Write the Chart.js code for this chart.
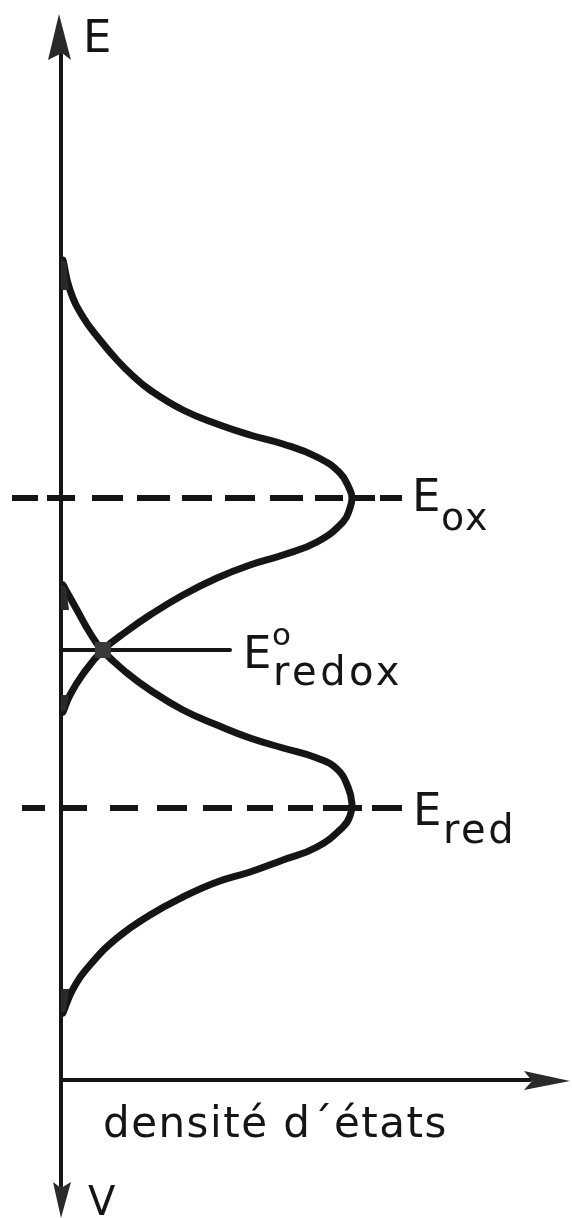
<!DOCTYPE html>
<html>
<head>
<meta charset="utf-8">
<script src="https://cdn.jsdelivr.net/npm/chart.js@4.4.0/dist/chart.umd.min.js"></script>
<style>
  html, body { margin: 0; background: #fff; }
  canvas { display: block; }
</style>
</head>
<body>
<canvas id="out" width="572" height="1218"></canvas>
<script>
// x = densité d'états, y = énergie (0 au croisement des axes)
const oxDensity = [2, 9, 22, 39, 56, 72, 89, 122, 156, 189, 222, 256, 279, 289, 291, 289,
                   282, 256, 222, 189, 156, 122, 89, 66, 42, 22, 9, 2];
const oxEnergy  = [820, 790, 763, 740, 720, 704, 690, 670, 656, 645, 636, 623, 607, 590, 582, 572,
                   558, 538, 525, 515, 502, 485, 465, 449, 430, 406, 385, 368];

const redDensity = [2, 16, 29, 41, 66, 89, 122, 156, 189, 222, 256, 276, 287, 291, 289,
                    282, 256, 222, 189, 156, 122, 89, 56, 29, 12, 2];
const redEnergy  = [495, 470, 447, 430, 407, 390, 370, 355, 342, 332, 322, 311, 293, 276, 264,
                    253, 233, 220, 208, 198, 183, 165, 142, 115, 91, 67];

const levelEox = 582;
const levelEred = 272;
const levelRedox = 430;
const redoxCross = 42;

const axisTop = 1066;
const axisBottom = -138;
const axisRight = 509;

const levelLabels = ["ox", "red", "redox"];
const axisLabels = ["E", "V", "densité d\u00b4états"];

const INK = "#151515";

// tirets tracés à la main, irréguliers
const dashOx = [26, 9, 28, 17, 31, 14, 33, 12, 30, 13, 30, 15, 33, 12, 28, 10, 22, 5, 22, 40];
const dashRed = [23, 15, 27, 23, 28, 19, 30, 16, 29, 15, 26, 15, 25, 10, 39, 10, 30, 40];

function line(data, width, dash) {
  return {
    data: data,
    borderColor: INK,
    borderWidth: width,
    borderDash: dash || [],
    borderCapStyle: dash ? "butt" : "round",
    pointRadius: 0,
    pointHoverRadius: 0,
    tension: 0,
    fill: false
  };
}

function curve(xs, ys) {
  const d = line(xs.map((x, i) => ({ x: x, y: ys[i] })), 7);
  d.tension = 0.45;
  d.borderJoinStyle = "round";
  return d;
}

// flèches et textes
const annotate = {
  id: "annotate",
  afterDatasetsDraw(chart) {
    const ctx = chart.ctx;
    const sx = chart.scales.x, sy = chart.scales.y;
    const px = v => sx.getPixelForValue(v);
    const py = v => sy.getPixelForValue(v);

    ctx.save();
    ctx.fillStyle = "#2a2a2a";

    // pointe vers le haut
    let tx = px(0), ty = py(axisTop);
    ctx.beginPath();
    ctx.moveTo(tx - 2, ty);
    ctx.lineTo(tx + 10, ty + 46);
    ctx.lineTo(tx + 1, ty + 39);
    ctx.lineTo(tx - 13, ty + 46);
    ctx.closePath();
    ctx.fill();

    // pointe vers le bas
    ty = py(axisBottom);
    ctx.beginPath();
    ctx.moveTo(tx, ty);
    ctx.lineTo(tx + 10, ty - 36);
    ctx.lineTo(tx, ty - 30);
    ctx.lineTo(tx - 8, ty - 36);
    ctx.closePath();
    ctx.fill();

    // pointe vers la droite
    tx = px(axisRight); ty = py(0);
    ctx.beginPath();
    ctx.moveTo(tx, ty + 1);
    ctx.lineTo(tx - 46, ty - 9);
    ctx.lineTo(tx - 38, ty + 1);
    ctx.lineTo(tx - 46, ty + 10);
    ctx.closePath();
    ctx.fill();

    // départ épaissi des courbes sur l'axe
    const tip = (yTop, yLow, dir) => {
      const x0 = px(0), a = py(yTop), b = py(yLow);
      ctx.beginPath();
      ctx.moveTo(x0, a);
      ctx.lineTo(x0 + 5, a + dir * 2);
      ctx.lineTo(x0 + 8, b);
      ctx.lineTo(x0, b);
      ctx.closePath();
      ctx.fill();
    };
    tip(oxEnergy[0], oxEnergy[1], 1);
    tip(oxEnergy[oxEnergy.length - 1], oxEnergy[oxEnergy.length - 2], -1);
    tip(redEnergy[0], redEnergy[1], 1);
    tip(redEnergy[redEnergy.length - 1], redEnergy[redEnergy.length - 2], -1);

    // point de croisement des deux courbes
    ctx.fillStyle = "#3a3a3a";
    ctx.fillRect(px(redoxCross) - 8, py(levelRedox) - 8, 16, 16);

    ctx.fillStyle = INK;
    ctx.textBaseline = "alphabetic";
    ctx.textAlign = "left";
    const txt = (s, x, y, size, sp) => {
      ctx.font = size + "px 'DejaVu Sans'";
      ctx.letterSpacing = (sp || 0) + "px";
      ctx.fillText(s, px(x), py(y));
    };

    txt(axisLabels[0], 22, 1028, 45);
    txt(axisLabels[1], 27, -135, 40);
    txt(axisLabels[2], 42, -57, 42, 1.5);

    txt("E", 351, 569, 45);
    txt(levelLabels[0], 380, 550, 38, 2);
    txt("E", 352, 255, 45);
    txt(levelLabels[1], 382, 237, 40, 2.5);
    txt("E", 182, 412, 45);
    txt("o", 211, 435, 31);
    txt(levelLabels[2], 212, 395, 40, 3.5);
    ctx.restore();
  }
};

new Chart(document.getElementById("out").getContext("2d"), {
  type: "line",
  data: {
    datasets: [
      line([{ x: 0, y: axisTop - 40 }, { x: 0, y: axisBottom + 32 }], 4),
      line([{ x: 0, y: 0 }, { x: axisRight - 40, y: 0 }], 4),
      line([{ x: -49, y: levelEox }, { x: 341, y: levelEox }], 6, dashOx),
      line([{ x: -39, y: levelEred }, { x: 341, y: levelEred }], 6, dashRed),
      line([{ x: 0, y: levelRedox }, { x: 169, y: levelRedox }], 4),
      curve(oxDensity, oxEnergy),
      curve(redDensity, redEnergy)
    ]
  },
  options: {
    responsive: false,
    animation: false,
    devicePixelRatio: 1,
    layout: { padding: 0 },
    plugins: { legend: { display: false }, tooltip: { enabled: false } },
    scales: {
      x: { type: "linear", min: -61, max: 511, display: false },
      y: { type: "linear", min: -138, max: 1080, display: false }
    }
  },
  plugins: [annotate]
});
</script>
</body>
</html>
